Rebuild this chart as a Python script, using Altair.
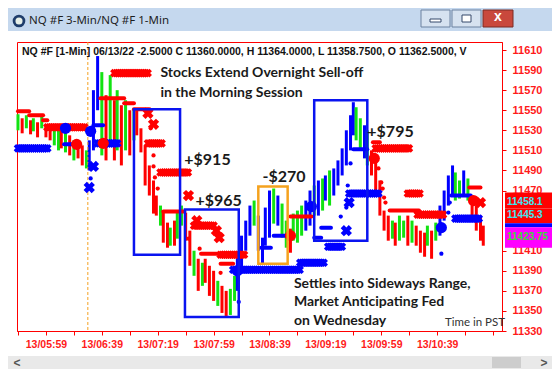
import altair as alt
import numpy as np
import pandas as pd

# ---------------- data ----------------
# 1-minute bars (minute of day, high, low, colour code)
bar_t = [339, 342, 345, 348, 350, 353, 356, 359, 362, 365, 368, 370, 373, 376, 379, 382, 385, 388,
         390, 393, 396, 399, 402, 405, 408, 410, 413, 416, 419, 422, 424, 427, 430, 433, 436, 438,
         441, 443, 446, 448, 451, 453, 456, 459, 462, 465, 468, 471, 473, 476, 479, 482, 485, 488,
         491, 494, 496, 499, 502, 505, 508, 511, 514, 516, 519, 522, 525, 528, 531, 534, 536, 539,
         542, 545, 548, 551, 554, 557, 559, 562, 565, 568, 571, 574, 577, 579, 581, 584, 587, 589,
         592, 595, 598, 601, 604, 607, 609, 612, 615, 618, 621, 624, 627, 630, 632, 635, 638, 641,
         644, 647, 650, 652, 655, 658, 661, 664, 667, 670, 672]
bar_hi = [11546, 11542, 11545, 11540, 11542, 11538, 11545, 11536, 11534, 11535, 11532, 11533, 11530,
          11525, 11520, 11520, 11515, 11510, 11520, 11570, 11604, 11588, 11565, 11585, 11560, 11570,
          11555, 11560, 11550, 11552, 11552, 11532, 11515, 11495, 11480, 11465, 11455, 11450, 11438,
          11433, 11440, 11450, 11455, 11448, 11430, 11410, 11402, 11398, 11402, 11395, 11390, 11380,
          11375, 11370, 11372, 11385, 11405, 11425, 11440, 11455, 11460, 11445, 11423, 11453, 11470,
          11472, 11465, 11457, 11440, 11432, 11447, 11450, 11455, 11460, 11470, 11475, 11480, 11482,
          11485, 11490, 11492, 11500, 11512, 11530, 11545, 11558, 11553, 11542, 11535, 11530, 11510,
          11500, 11480, 11450, 11445, 11440, 11438, 11445, 11440, 11445, 11440, 11435, 11430, 11428,
          11435, 11430, 11438, 11455, 11470, 11485, 11495, 11488, 11480, 11490, 11482, 11465, 11455,
          11445, 11435]
bar_lo = [11530, 11527, 11532, 11526, 11529, 11523, 11532, 11523, 11520, 11515, 11510, 11512, 11508,
          11505, 11500, 11502, 11495, 11492, 11490, 11510, 11550, 11505, 11500, 11520, 11500, 11510,
          11495, 11510, 11505, 11520, 11525, 11508, 11475, 11465, 11447, 11445, 11435, 11418, 11413,
          11415, 11415, 11422, 11435, 11420, 11395, 11385, 11370, 11375, 11378, 11365, 11360, 11355,
          11348, 11345, 11346, 11360, 11370, 11390, 11410, 11425, 11435, 11410, 11397, 11415, 11423,
          11437, 11435, 11423, 11413, 11408, 11420, 11418, 11425, 11430, 11435, 11445, 11445, 11450,
          11460, 11455, 11465, 11475, 11485, 11495, 11510, 11525, 11520, 11510, 11502, 11495, 11485,
          11470, 11445, 11430, 11420, 11422, 11415, 11420, 11423, 11415, 11418, 11415, 11408, 11404,
          11415, 11402, 11420, 11425, 11440, 11455, 11465, 11460, 11462, 11465, 11460, 11445, 11430,
          11420, 11415]
bar_col = list("GRGRGRGRRGGRGRGRRG" "BBBGRGRGRGRGR" "RRRRRGRRGRGGRRGRGRRRGRRGG"
               "BBBBGBBBBGBGGRGGGBBGBGBGBBBBBBGGBG" "RRRRRGRGGRGRRRGRG" "BBBBGGBGRRRR")

# stop-line segments (start, end, price)
rseg_t1 = [339, 347, 357, 398, 415, 422, 443, 470, 484, 534, 593, 605, 662]
rseg_t2 = [347, 357, 360, 415, 422, 433, 458, 482, 493, 549, 598, 626, 670]
rseg_p = [11549, 11545, 11540, 11562, 11557, 11551, 11449, 11407, 11397, 11444, 11518, 11450, 11473]
bseg_t1 = [372, 393, 513, 522, 551, 556, 579, 649]
bseg_t2 = [378, 400, 520, 531, 556, 563, 589, 663]
bseg_p = [11516, 11535, 11413, 11425, 11423, 11433, 11511, 11465]

# cross-hatched bands (start, end, price)
rband_t1 = [360, 408, 432, 441, 465, 484, 595, 625, 618]
rband_t2 = [387, 432, 443, 461, 479, 501, 619, 644, 627]
rband_p = [11533, 11587, 11517, 11488, 11435, 11406, 11512, 11446, 11467]
bband_t1 = [339, 396, 493, 541, 561, 576, 652]
bband_t2 = [361, 411, 541, 558, 572, 597, 670]
bband_p = [11512, 11517, 11391, 11398, 11414, 11467, 11442]

# single X markers
rx_t = [432, 436, 461, 467, 481, 483, 670]
rx_p = [11547, 11536, 11465, 11440, 11430, 11423, 11458]
bx_t = [393, 390, 574, 576]
bx_p = [11494, 11473, 11430, 11458]

# small dots
rdot_t = [434, 436, 436, 437, 439, 461, 469, 484, 597, 599, 600, 601, 602]
rdot_p = [11532, 11505, 11494, 11483, 11472, 11422, 11412, 11388, 11492, 11478, 11472, 11463, 11458]
bdot_t = [391, 497, 570, 574, 575, 577, 642, 647, 648]
bdot_p = [11482, 11359, 11444, 11453, 11475, 11497, 11407, 11448, 11458]

# big dots
rbig_t = [381, 400, 534, 594, 665]
rbig_p = [11516, 11517, 11425, 11502, 11460]
bbig_t = [373, 391, 496, 549, 642]
bbig_p = [11532, 11529, 11390, 11454, 11433]

# trade boxes
box_t1 = [422, 458.5, 551, 511]
box_t2 = [455, 497, 589, 532]
box_hi = [11551, 11451, 11560, 11474]
box_lo = [11406, 11344, 11420, 11397]
box_col = ["#0a14f0", "#0a14f0", "#0a14f0", "#f5a21e"]

session_open = [389]

# annotations
big_txt = ["+$915", "+$965", "-$270", "+$795"]
big_t = [458, 466, 514, 589]
big_p = [11500, 11460, 11483, 11528]
note_txt = ["Stocks Extend Overnight Sell-off", "in the Morning Session",
            "Settles into Sideways Range,", "Market Anticipating Fed", "on Wednesday"]
note_t = [441, 441, 536.5, 536.5, 536.5]
note_p = [11587, 11567, 11377, 11359, 11340]
small_txt = ["Time in PST"]
small_t = [644.6]
small_p = [11338]

# price tags on the right axis
tag_hi = [11468, 11452, 11437.5, 11433.5]
tag_lo = [11452, 11437.5, 11433.5, 11413]
tag_col = ["#ff0000", "#ff0000", "#0000ff", "#ff00ff"]
tag_lbl = ["11458.1", "11445.3", "11423.75"]
tag_lp = [11458.1, 11445.3, 11423.75]
tag_lcol = ["#3fe6f2", "#3fe6f2", "#3ad83a"]

header = "NQ #F [1-Min] 06/13/22  -2.5000 C 11360.0000, H 11364.0000, L 11358.7500, O 11362.5000, V"
window_title = "NQ #F 3-Min/NQ #F 1-Min"
y_ticks = [v for v in range(11330, 11611, 20) if v not in (11430, 11450)]  # those two sit under the tags
x_ticks = list(range(339, 686, 20))

# ---------------- chart ----------------
COL = {"G": "#12e312", "R": "#ff0000", "B": "#0000ff"}
RED, BLUE = "#ff0000", "#0000ff"
W, H = 485, 289
xs = alt.Scale(domain=[338.3, 685.4], nice=False, zero=False)
ys = alt.Scale(domain=[11330, 11618], nice=False, zero=False)

lab = ("(datum.value - 359) % 40 == 0 && datum.value < 660 ? '13/' + (floor(datum.value/60) < 10 ? '0' : '') + "
       "floor(datum.value/60) + ':' + (datum.value % 60 < 10 ? '0' : '') + (datum.value % 60) : ''")
xaxis = alt.Axis(values=x_ticks, labelExpr=lab, grid=False, domainColor=RED, tickColor=RED,
                 tickSize=4, labelColor="#ff1a1a", labelFont="Liberation Sans", labelFontWeight="bold",
                 labelFontSize=10.5, labelPadding=4, labelOverlap=False, labelFlush=False, title=None)
yaxis = alt.Axis(values=y_ticks, orient="right", format="d", grid=False, domainColor=RED, tickColor=RED,
                 tickSize=4, labelColor="#ff1a1a", labelFont="Liberation Sans", labelFontWeight="bold",
                 labelFontSize=11, labelPadding=6, labelOverlap=False, labelFlush=False, title=None)


def X(f="t"):
    return alt.X(f + ":Q", scale=xs, axis=xaxis, title=None)


def Y(f="p"):
    return alt.Y(f + ":Q", scale=ys, axis=yaxis, title=None)


one = pd.DataFrame({"a": [0]})

bars = pd.DataFrame({"t": bar_t, "hi": bar_hi, "lo": bar_lo, "c": [COL[k] for k in bar_col]})
bar_layer = alt.Chart(bars).mark_rule(strokeWidth=3).encode(
    x=X(), y=Y("lo"), y2="hi:Q", color=alt.Color("c:N", scale=None))

open_layer = alt.Chart(pd.DataFrame({"t": session_open})).mark_rule(
    color="#f5a020", strokeDash=[3, 2], strokeWidth=1).encode(x=X())

segs = pd.DataFrame({"t": rseg_t1 + bseg_t1, "t2": rseg_t2 + bseg_t2, "p": rseg_p + bseg_p,
                     "c": [RED] * len(rseg_p) + [BLUE] * len(bseg_p)})
seg_layer = alt.Chart(segs).mark_rule(strokeWidth=4, strokeCap="round").encode(
    x=X(), x2="t2:Q", y=Y(), color=alt.Color("c:N", scale=None))

rows = []
for t1, t2, p, c in list(zip(rband_t1, rband_t2, rband_p, [RED] * len(rband_p))) + \
        list(zip(bband_t1, bband_t2, bband_p, [BLUE] * len(bband_p))):
    for t in np.arange(t1, t2 + 0.01, 1.4):
        rows.append({"t": float(t), "p": p, "c": c})
band_layer = alt.Chart(pd.DataFrame(rows)).mark_point(
    shape="cross", angle=45, filled=True, size=75, opacity=1).encode(
    x=X(), y=Y(), color=alt.Color("c:N", scale=None))

xm = pd.DataFrame({"t": rx_t + bx_t, "p": rx_p + bx_p, "c": [RED] * len(rx_t) + [BLUE] * len(bx_t)})
xm_layer = alt.Chart(xm).mark_point(shape="cross", angle=45, filled=True, size=130, opacity=1).encode(
    x=X(), y=Y(), color=alt.Color("c:N", scale=None))

sd = pd.DataFrame({"t": rdot_t + bdot_t, "p": rdot_p + bdot_p,
                   "c": [RED] * len(rdot_t) + [BLUE] * len(bdot_t)})
sd_layer = alt.Chart(sd).mark_circle(size=18, opacity=1).encode(
    x=X(), y=Y(), color=alt.Color("c:N", scale=None))

bd = pd.DataFrame({"t": rbig_t + bbig_t, "p": rbig_p + bbig_p,
                   "c": [RED] * len(rbig_t) + [BLUE] * len(bbig_t)})
bd_layer = alt.Chart(bd).mark_circle(size=125, opacity=1).encode(
    x=X(), y=Y(), color=alt.Color("c:N", scale=None))

boxes = pd.DataFrame({"t": box_t1, "t2": box_t2, "p": box_hi, "p2": box_lo, "c": box_col})
box_layer = alt.Chart(boxes).mark_rect(filled=False, strokeWidth=2.5).encode(
    x=X(), x2="t2:Q", y=Y(), y2="p2:Q", stroke=alt.Stroke("c:N", scale=None))

big_layer = alt.Chart(pd.DataFrame({"s": big_txt, "t": big_t, "p": big_p})).mark_text(
    align="left", baseline="middle", font="Lato", fontWeight="bold", fontSize=16, color="#1a1a1a").encode(
    x=X(), y=Y(), text="s:N")
note_layer = alt.Chart(pd.DataFrame({"s": note_txt, "t": note_t, "p": note_p})).mark_text(
    align="left", baseline="middle", font="Lato", fontWeight="bold", fontSize=14, color="#1a1a1a").encode(
    x=X(), y=Y(), text="s:N")
small_layer = alt.Chart(pd.DataFrame({"s": small_txt, "t": small_t, "p": small_p})).mark_text(
    align="left", baseline="middle", font="Lato", fontSize=11.5, color="#333333").encode(
    x=X(), y=Y(), text="s:N")

head_layer = alt.Chart(one).mark_text(
    align="left", baseline="middle", font="Liberation Sans", fontWeight="bold", fontSize=10.5,
    color="#111111", text=header).encode(x=alt.value(5), y=alt.value(10))

tags = pd.DataFrame({"p": tag_hi, "p2": tag_lo, "c": tag_col})
tag_layer = alt.Chart(tags).mark_rect().encode(
    x=alt.value(W + 3), x2=alt.value(W + 50), y=Y(), y2="p2:Q", color=alt.Color("c:N", scale=None))
tagl_layer = alt.Chart(pd.DataFrame({"s": tag_lbl, "p": tag_lp, "c": tag_lcol})).mark_text(
    align="left", baseline="middle", font="Liberation Sans", fontWeight="bold", fontSize=10).encode(
    x=alt.value(W + 5), y=Y(), text="s:N", color=alt.Color("c:N", scale=None))


# window chrome (pixel-placed decoration, not data)
def box(x1, x2, y1, y2, fill, stroke=None):
    kw = {"color": fill}
    if stroke:
        kw.update(stroke=stroke, strokeWidth=1)
    return alt.Chart(one).mark_rect(**kw).encode(
        x=alt.value(x1), x2=alt.value(x2), y=alt.value(y1), y2=alt.value(y2))


def label(s, x, y, **kw):
    return alt.Chart(one).mark_text(text=s, baseline="middle", **kw).encode(x=alt.value(x), y=alt.value(y))


chrome = [
    box(-9, 535, -34, -11, "#c5d8ee"),
    label(window_title, 12, -21, align="left", font="Noto Sans", fontSize=11.5, color="#1e1e1e"),
    alt.Chart(one).mark_circle(size=160, color="#1f3d6b", opacity=1).encode(x=alt.value(2), y=alt.value(-21)),
    alt.Chart(one).mark_circle(size=50, color="#e8f0e8", opacity=1).encode(x=alt.value(2), y=alt.value(-21)),
    box(404, 433, -32, -15, "#d6e2f0", "#6c82a0"),
    box(435, 464, -32, -15, "#d6e2f0", "#6c82a0"),
    box(466, 496, -32, -15, "#c9483c", "#7b2a22"),
    box(413, 424, -23, -20, "#ffffff", "#35486a"),
    box(445, 454, -27, -20, "#ffffff", "#35486a"),
    label("x", 481, -25, align="center", font="Liberation Sans", fontWeight="bold", fontSize=14, color="white"),
    box(-9, 535, 314, 327, "#e9e9e9"),
    box(475, 504, 315, 326, "#cdcdcd"),
    label("<", 0, 320.5, align="center", font="Liberation Sans", fontWeight="bold", fontSize=12, color="#555555"),
    label(">", 527, 320.5, align="center", font="Liberation Sans", fontWeight="bold", fontSize=12, color="#555555"),
]

chart = alt.layer(
    bar_layer, open_layer, seg_layer, band_layer, xm_layer, sd_layer, bd_layer, box_layer,
    big_layer, note_layer, small_layer, head_layer, tag_layer, tagl_layer, *chrome
).properties(
    width=W, height=H,
    padding={"left": 9, "top": 34, "right": 50, "bottom": 38},
    autosize=alt.AutoSizeParams(type="none"),
    background="white",
).configure_view(stroke="#ff0000", strokeWidth=1)

chart.save("out.html", embed_options={"renderer": "svg", "actions": False})
